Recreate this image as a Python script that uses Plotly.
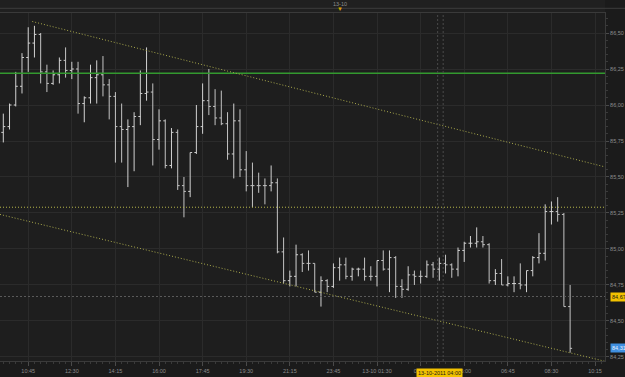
import pandas as pd
import plotly.graph_objects as go

# ---- data -------------------------------------------------------------
day1 = pd.date_range("2011-10-12 09:45", "2011-10-12 21:45", freq="15min")
day2 = pd.date_range("2011-10-12 22:45", "2011-10-13 10:15", freq="15min")
axis_times = list(day1) + list(day2)          # session bars (incl. empty tail)

open_ = [85.81, 85.85, 86.00, 86.13, 86.33, 86.43, 86.49, 86.23, 86.15, 86.21,
         86.31, 86.24, 86.25, 86.01, 86.05, 86.19, 86.21, 86.14, 86.06, 85.85,
         85.83, 85.85, 85.92, 86.08, 86.09, 85.76, 85.89, 85.58, 85.81, 85.44,
         85.40, 85.67, 85.85, 86.03, 85.99, 85.91, 85.87, 85.66, 85.89, 85.55,
         85.44, 85.44, 85.44, 85.44, 85.46, 84.98, 84.78, 84.81, 84.96, 84.90,
         84.90, 84.70, 84.78, 84.74, 84.87, 84.89, 84.81, 84.86, 84.86, 84.81,
         84.81, 84.92, 84.86, 84.94, 84.74, 84.72, 84.82, 84.81, 84.81, 84.89,
         84.86, 84.90, 84.89, 84.86, 84.99, 85.04, 85.04, 85.05, 85.03, 84.78,
         84.83, 84.75, 84.76, 84.76, 84.75, 84.85, 84.94, 84.97, 85.26, 85.26,
         85.24, 84.60]
high = [85.94, 86.01, 86.23, 86.36, 86.54, 86.55, 86.50, 86.28, 86.24, 86.33,
        86.40, 86.30, 86.30, 86.06, 86.28, 86.31, 86.34, 86.18, 86.09, 86.01,
        85.90, 85.95, 86.24, 86.40, 86.15, 85.97, 85.90, 85.84, 85.83, 85.50,
        85.67, 86.00, 86.15, 86.25, 86.11, 86.10, 85.95, 86.01, 85.97, 85.68,
        85.60, 85.53, 85.49, 85.58, 85.49, 85.08, 84.85, 85.03, 84.97, 84.99,
        84.90, 84.81, 84.79, 84.90, 84.94, 84.94, 84.87, 84.87, 84.94, 84.88,
        84.92, 84.99, 84.99, 84.95, 84.79, 84.88, 84.85, 84.85, 84.92, 84.91,
        84.94, 84.96, 84.90, 85.01, 85.05, 85.09, 85.15, 85.09, 85.04, 84.86,
        84.93, 84.81, 84.81, 84.90, 84.85, 84.95, 85.11, 85.31, 85.33, 85.36,
        85.25, 84.75]
low = [85.74, 85.83, 85.99, 86.08, 86.23, 86.33, 86.15, 86.09, 86.14, 86.15,
       86.19, 86.18, 85.94, 85.88, 86.01, 86.01, 86.06, 85.90, 85.60, 85.60,
       85.43, 85.54, 85.86, 86.03, 85.58, 85.69, 85.56, 85.56, 85.41, 85.22,
       85.36, 85.66, 85.80, 85.93, 85.86, 85.86, 85.62, 85.49, 85.50, 85.40,
       85.29, 85.39, 85.31, 85.40, 84.97, 84.76, 84.74, 84.74, 84.84, 84.85,
       84.70, 84.60, 84.70, 84.73, 84.78, 84.79, 84.78, 84.81, 84.78, 84.78,
       84.74, 84.85, 84.70, 84.66, 84.66, 84.71, 84.75, 84.76, 84.80, 84.80,
       84.78, 84.83, 84.80, 84.81, 84.91, 85.01, 85.01, 85.01, 84.76, 84.75,
       84.75, 84.74, 84.70, 84.72, 84.70, 84.81, 84.90, 84.92, 85.17, 85.19,
       84.60, 84.28]
close = [85.85, 86.00, 86.13, 86.33, 86.43, 86.49, 86.23, 86.15, 86.21, 86.31,
         86.24, 86.25, 86.01, 86.05, 86.19, 86.21, 86.14, 86.06, 85.85, 85.83,
         85.85, 85.92, 86.08, 86.09, 85.76, 85.89, 85.58, 85.81, 85.44, 85.40,
         85.67, 85.85, 86.03, 85.99, 85.91, 85.87, 85.66, 85.89, 85.55, 85.44,
         85.44, 85.44, 85.44, 85.46, 84.98, 84.78, 84.81, 84.96, 84.90, 84.90,
         84.70, 84.78, 84.74, 84.87, 84.89, 84.81, 84.86, 84.86, 84.81, 84.81,
         84.92, 84.86, 84.94, 84.74, 84.72, 84.82, 84.81, 84.81, 84.89, 84.86,
         84.90, 84.89, 84.86, 84.99, 85.04, 85.04, 85.05, 85.03, 84.78, 84.83,
         84.75, 84.76, 84.76, 84.75, 84.85, 84.94, 84.97, 85.26, 85.26, 85.24,
         84.60, 84.31]

tick_times = ["2011-10-12 10:45", "2011-10-12 12:30", "2011-10-12 14:15",
              "2011-10-12 16:00", "2011-10-12 17:45", "2011-10-12 19:30",
              "2011-10-12 21:15", "2011-10-12 23:45", "2011-10-13 01:30",
              "2011-10-13 03:15", "2011-10-13 05:00", "2011-10-13 06:45",
              "2011-10-13 08:30", "2011-10-13 10:15"]
tick_text = ["10:45", "12:30", "14:15", "16:00", "17:45", "19:30", "21:15",
             "23:45", "13-10 01:30", "03:15", "05:00", "06:45", "08:30", "10:15"]

resistance = 86.22          # green horizontal
pivot = 85.29               # yellow dotted horizontal
upper_channel_t = [4.65, 96.6]      # bar positions
upper_channel_p = [86.58, 85.57]
lower_channel_t = [-0.53, 96.6]
lower_channel_p = [85.24, 84.22]
cursor_time = "2011-10-13 04:00"
cursor_price = 84.67
last_price = 84.31
day_break = "2011-10-13 00:00"

# ---- helpers ----------------------------------------------------------
def pos(ts):
    return axis_times.index(pd.Timestamp(ts))

n = len(close)
xpos = [pos(t) for t in axis_times[:n]]

BG = "#1e1e1e"
GRID = "#2b2b2b"
TXT = "#8c8c8c"
FONT = "Liberation Sans"

fig = go.Figure()
fig.add_trace(go.Ohlc(
    x=xpos, open=open_, high=high, low=low, close=close,
    increasing=dict(line=dict(color="#d2d2d2", width=1)),
    decreasing=dict(line=dict(color="#c4c4c4", width=1)),
    tickwidth=0.32, showlegend=False, hoverinfo="skip"))

dotted = "1px,2px"
shapes = [
    # top strip
    dict(type="rect", xref="paper", yref="paper", x0=0, x1=1, y0=1.0, y1=1.04,
         fillcolor="#202020", line=dict(width=0), layer="below"),
    dict(type="line", xref="paper", yref="paper", x0=0, x1=1.035, y0=1.0135, y1=1.0135,
         line=dict(color="#3c3c3c", width=1)),
    # levels
    dict(type="line", xref="paper", yref="y", x0=0, x1=1, y0=resistance, y1=resistance,
         line=dict(color="#33992f", width=1.5)),
    dict(type="line", xref="paper", yref="y", x0=0, x1=1, y0=pivot, y1=pivot,
         line=dict(color="#b8b84a", width=1, dash=dotted)),
    dict(type="line", xref="x", yref="y", x0=upper_channel_t[0], x1=upper_channel_t[1],
         y0=upper_channel_p[0], y1=upper_channel_p[1],
         line=dict(color="#a9a94c", width=1, dash=dotted)),
    dict(type="line", xref="x", yref="y", x0=lower_channel_t[0], x1=lower_channel_t[1],
         y0=lower_channel_p[0], y1=lower_channel_p[1],
         line=dict(color="#a9a94c", width=1, dash=dotted)),
    # cursor
    dict(type="line", xref="paper", yref="y", x0=0, x1=1, y0=cursor_price, y1=cursor_price,
         line=dict(color="#5a5a5a", width=1, dash="2px,2px")),
    dict(type="line", xref="x", yref="paper", x0=pos(cursor_time) - 0.27,
         x1=pos(cursor_time) - 0.27, y0=0, y1=1,
         line=dict(color="#4a4a4a", width=1, dash="2px,2px")),
    dict(type="line", xref="x", yref="paper", x0=pos(cursor_time) + 0.62,
         x1=pos(cursor_time) + 0.62, y0=0, y1=1,
         line=dict(color="#4a4a4a", width=1, dash="2px,2px")),
]
fig.update_layout(shapes=shapes)

annotations = [
    dict(x=pos(day_break), y=1.0, xref="x", yref="paper", yanchor="bottom", yshift=4,
         text="13-10", showarrow=False, font=dict(size=5.5, color=TXT, family=FONT)),
    dict(x=pos(day_break), y=1.0, xref="x", yref="paper", yanchor="bottom", yshift=-1,
         text="▼", showarrow=False, font=dict(size=6, color="#d9a400", family=FONT)),
    dict(x=pos(cursor_time), y=0, xref="x", yref="paper", yanchor="top", yshift=-7,
         text="13-10-2011 04:00", showarrow=False, bgcolor="#f2c200",
         font=dict(size=5.5, color="#1a1a1a", family=FONT), borderpad=1),
    dict(x=1, y=cursor_price, xref="paper", yref="y", xanchor="left", xshift=5,
         text="84,67", showarrow=False, bgcolor="#f2c200",
         font=dict(size=5.5, color="#1a1a1a", family=FONT), borderpad=1),
    dict(x=1, y=last_price, xref="paper", yref="y", xanchor="left", xshift=5,
         text="84,31", showarrow=False, bgcolor="#3f8fe0",
         font=dict(size=5.5, color="#e8f2ff", family=FONT), borderpad=1),
]
fig.update_layout(annotations=annotations)

fig.update_layout(
    width=625, height=377,
    margin=dict(l=0, r=20, t=13, b=16, autoexpand=False),
    paper_bgcolor="#1b1b1b", plot_bgcolor=BG,
    separators=",.",
    font=dict(family=FONT, size=5.5, color=TXT),
    xaxis=dict(
        range=[-0.53, 96.6], rangeslider=dict(visible=False),
        tickvals=[pos(t) for t in tick_times], ticktext=tick_text,
        showgrid=True, gridcolor=GRID, gridwidth=1, zeroline=False,
        ticks="outside", ticklen=4, tickcolor="#4a4a4a",
        minor=dict(dtick=1, tick0=0, ticks="outside", ticklen=2, tickcolor="#3a3a3a",
                   showgrid=False),
        showline=True, linecolor="#3a3a3a", mirror=True,
        tickfont=dict(size=5.5, color=TXT, family=FONT), automargin=False),
    yaxis=dict(
        range=[84.222, 86.639], side="right", dtick=0.25, tick0=84.25,
        tickformat=".2f", showgrid=True, gridcolor=GRID, zeroline=False,
        ticks="outside", ticklen=3, tickcolor="#4a4a4a",
        minor=dict(dtick=0.05, ticks="outside", ticklen=2, tickcolor="#3a3a3a",
                   showgrid=False),
        showline=True, linecolor="#3a3a3a", mirror=True,
        tickfont=dict(size=5.5, color=TXT, family=FONT), automargin=False),
)

fig.write_html("out.html")
